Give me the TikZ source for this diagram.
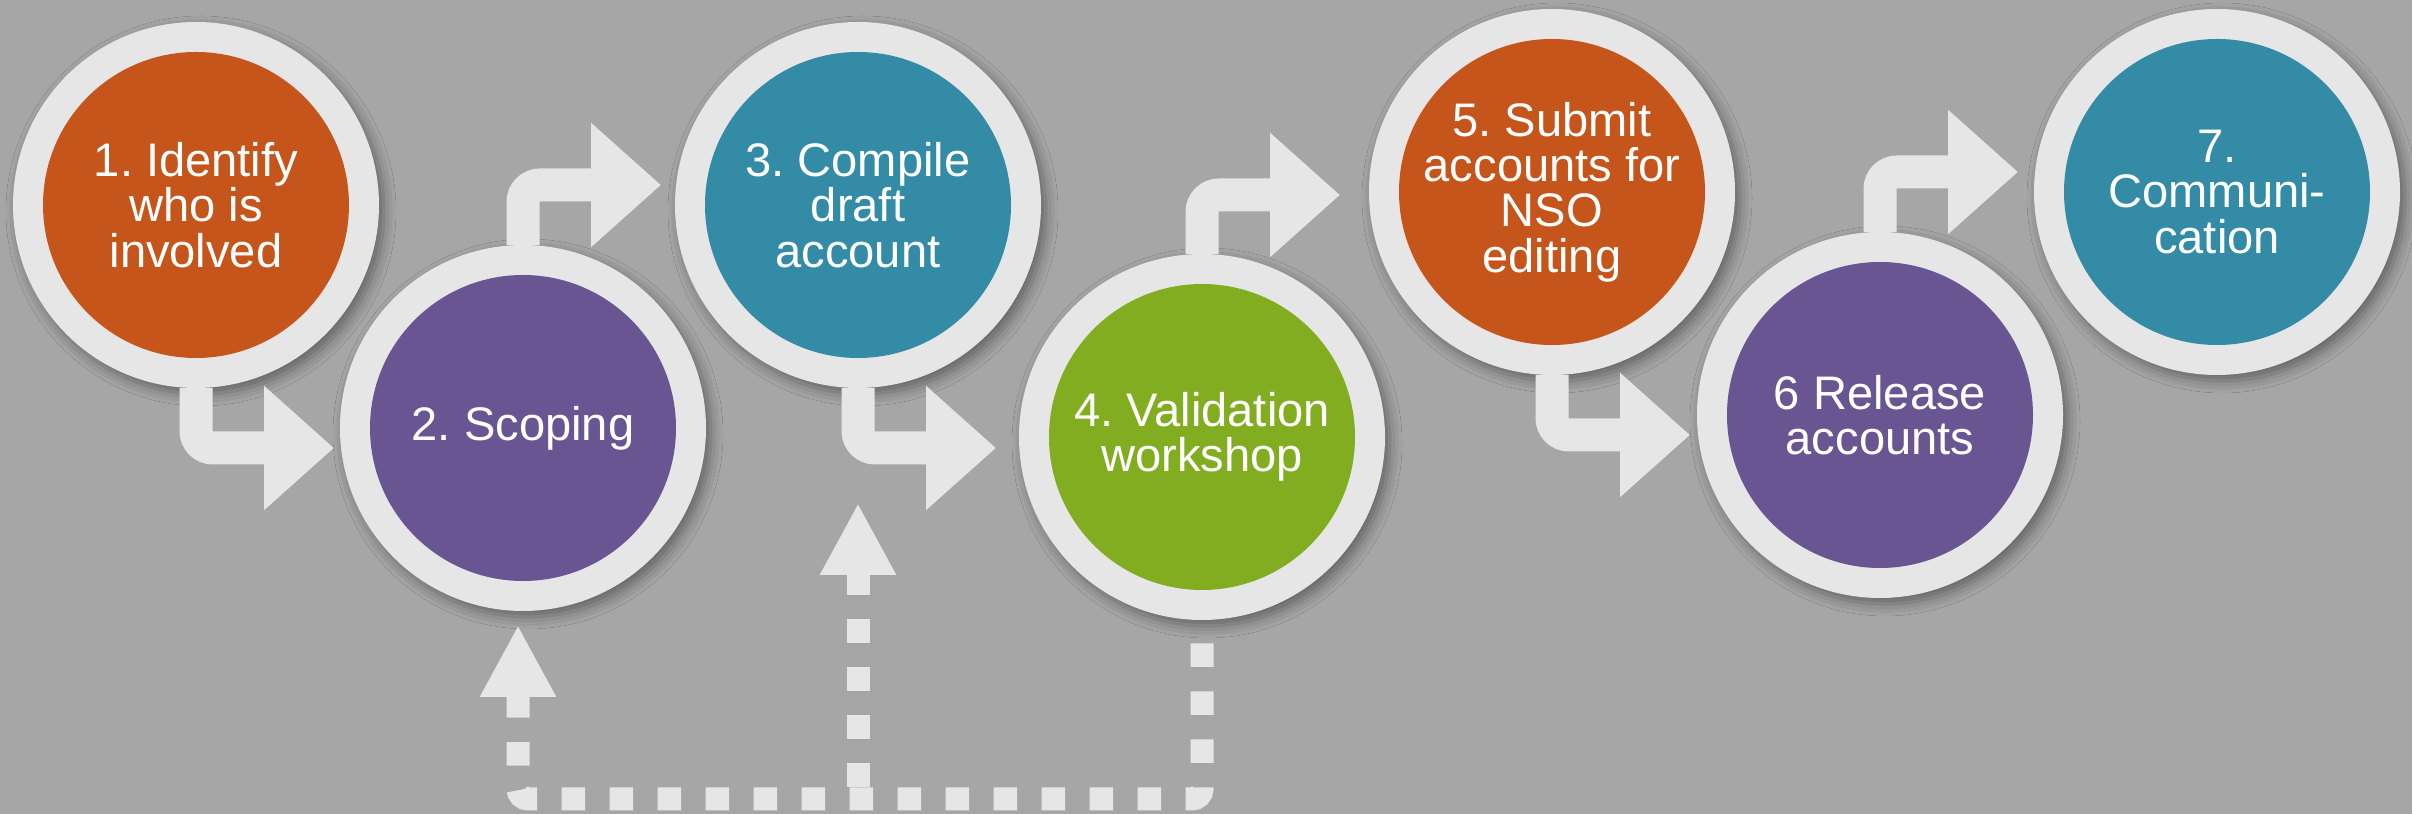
\documentclass[tikz,border=0pt]{standalone}
\usepackage{fontspec}
\setmainfont{Liberation Sans}
\frenchspacing
\usetikzlibrary{positioning, calc, arrows.meta, shadows.blur}

\definecolor{bggray}{HTML}{A6A6A6}
\definecolor{ringgray}{HTML}{E6E6E6}
\definecolor{steporange}{HTML}{C5551B}
\definecolor{steppurple}{HTML}{685591}
\definecolor{stepteal}{HTML}{338BA6}
\definecolor{stepgreen}{HTML}{83AD21}

\tikzset{
    stepnode/.style={circle, fill=ringgray, minimum size=3.66cm, inner sep=0pt, outer sep=0pt,
        text=white, align=center, font=\fontsize{13.4}{12.9}\selectfont,
        blur shadow={shadow xshift=0.05cm, shadow yshift=-0.06cm, shadow blur radius=0.12cm, shadow opacity=40},
        path picture={\fill[#1] (path picture bounding box.center) circle (1.53cm);}},
    flow/.style={draw=ringgray, line width=0.33cm, rounded corners=0.17cm,
        -{Triangle[width=1.2cm, length=0.7cm]}},
    feedback/.style={draw=ringgray, line width=0.23cm, rounded corners=0.1cm,
        dash pattern=on 0.235cm off 0.245cm, -{Triangle[width=0.71cm, length=0.72cm]}}
}

\begin{document}
\begin{tikzpicture}

    \fill[bggray] (0,0) rectangle (24.12,8.14);
    \useasboundingbox (0,0) rectangle (24.12,8.14);

    %Steps
    \node[stepnode=steporange] (s1) at (1.96,6.09) {1. Identify\\who is\\involved};
    \node[stepnode=steppurple] (s2) at (5.23,3.86) {2. Scoping};
    \node[stepnode=stepteal] (s3) at (8.58,6.09) {3. Compile\\draft\\account};
    \node[stepnode=stepgreen] (s4) at (12.02,3.77) {4. Validation\\workshop};
    \node[stepnode=steporange] (s5) at (15.52,6.22) {5. Submit\\accounts for\\NSO\\editing};
    \node[stepnode=steppurple] (s6) at (18.80,3.99) {6 Release\\accounts};
    \node[stepnode=stepteal] (s7) at (22.17,6.22) {7.\\Communi-\\cation};

    %Arrows
    \draw[flow] (s1.south) |- ($(s2.west)+(-0.06,-0.20)$);
    \draw[flow] (s2.north) |- ($(s3.west)+(-0.14,0.20)$);
    \draw[flow] (s3.south) |- ($(s4.west)+(-0.23,-0.11)$);
    \draw[flow] (s4.north) |- ($(s5.west)+(-0.29,-0.03)$);
    \draw[flow] (s5.south) |- ($(s6.west)+(-0.07,-0.20)$);
    \draw[flow] (s6.north) |- ($(s7.west)+(-0.16,0.20)$);

    %Feedback
    \coordinate (base) at (0,0.15);
    \draw[feedback, dash phase=0.245cm] (s4.south) -- (s4.south |- base) -| ($(s2.south)+(-0.05,-0.14)$);
    \draw[feedback] ($(s3.south |- base)+(0,0.12)$) -- ($(s3.south)+(0,-1.15)$);
\end{tikzpicture}
\end{document}
